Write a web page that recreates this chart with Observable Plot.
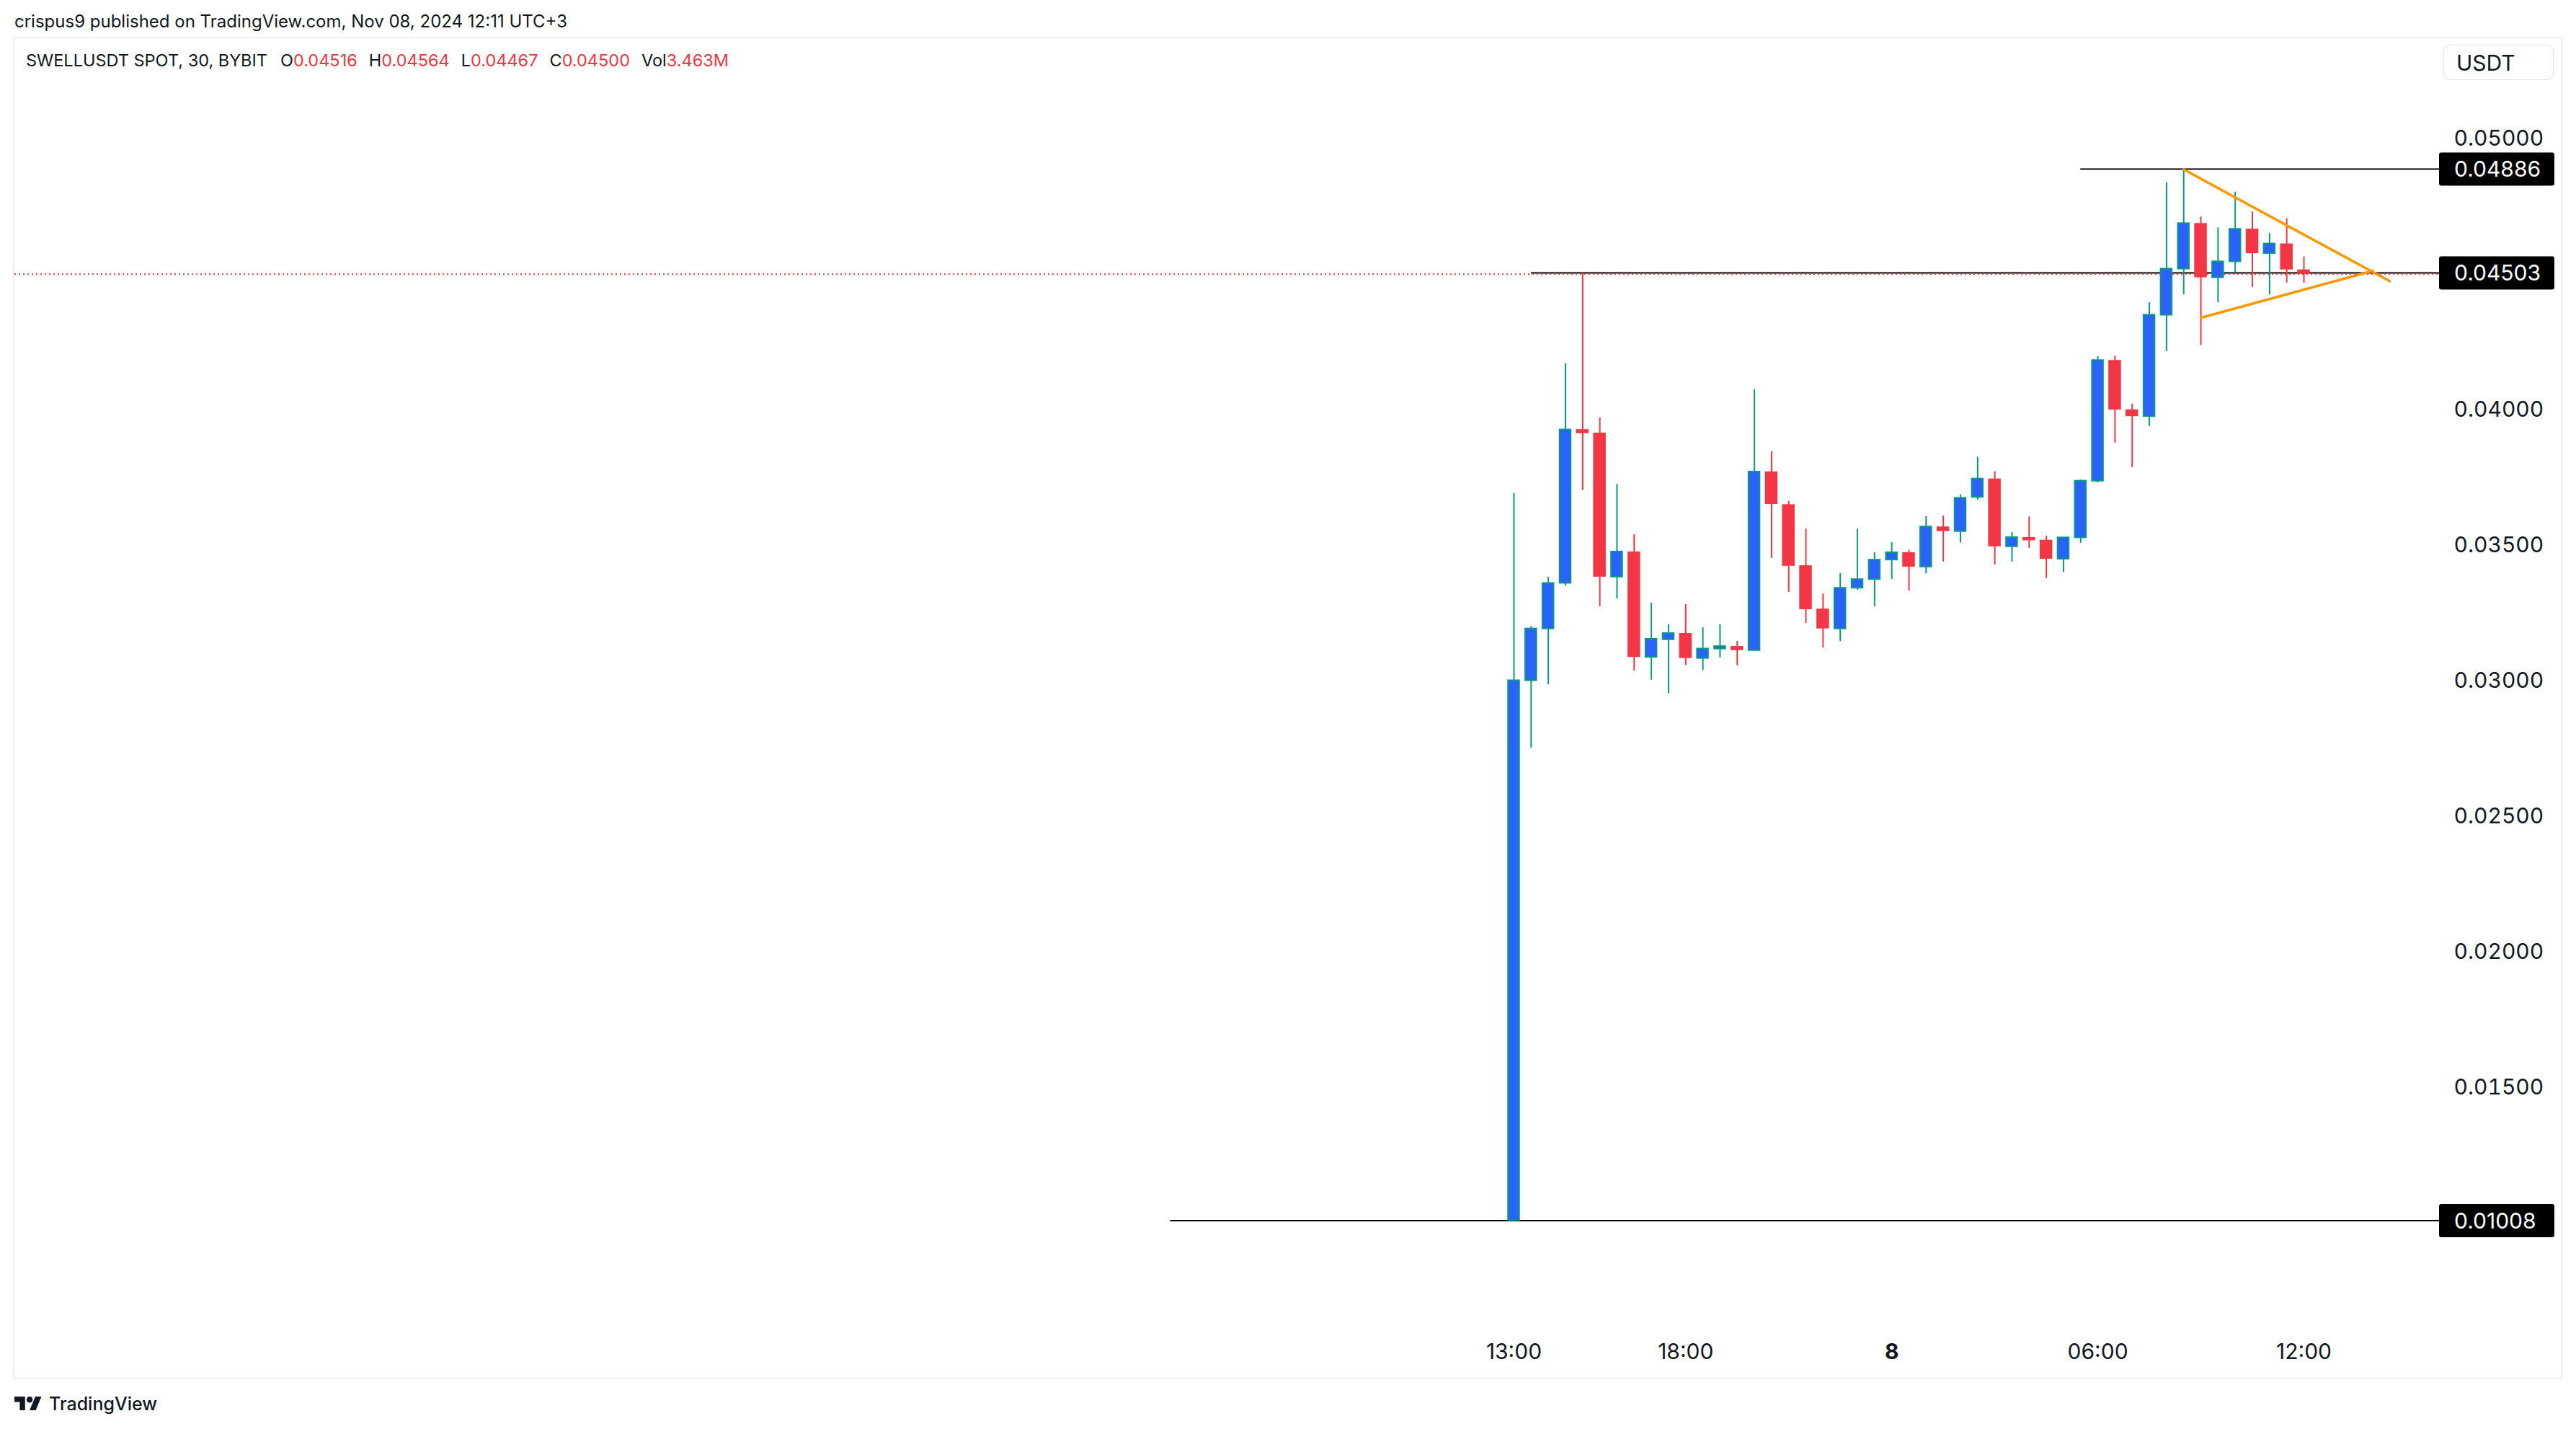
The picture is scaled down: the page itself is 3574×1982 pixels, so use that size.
<!DOCTYPE html>
<html>
<head>
<meta charset="utf-8">
<script src="https://cdn.jsdelivr.net/npm/d3@7"></script>
<script src="https://cdn.jsdelivr.net/npm/@observablehq/plot@0.6"></script>
<style>
  html, body { margin: 0; padding: 0; background: #ffffff; }
  body { width: 3574px; height: 1982px; position: relative; overflow: hidden; font-family: Inter, "Noto Sans", sans-serif; color: #131722; }
  .abs { position: absolute; white-space: nowrap; line-height: 1; transform: translateY(-50%); }
  #frame { position: absolute; left: 18px; top: 51px; width: 3533px; height: 1858px; border: 2px solid #EEEEF3; }
  #chart { position: absolute; left: 0; top: 0; }
  .red { color: #F23645; }
</style>
</head>
<body>
<div id="frame"></div>
<div id="chart"></div>
<div class="abs" id="pub" style="left:20px; top:30px; font-size:24px;"></div>
<div class="abs" id="legend" style="left:36px; top:84px; font-size:23.5px;"></div>
<div id="usdt" style="position:absolute; left:3390px; top:62px; width:153px; height:49px; border:1.5px solid #E0E3EB; border-radius:9px; box-sizing:border-box;">
  <span style="position:absolute; left:17px; top:50%; transform:translateY(-50%); font-size:30px; line-height:1;">USDT</span>
</div>
<div id="logo" style="position:absolute; left:20px; top:1937px; height:19px;">
  <svg width="38" height="19" viewBox="0 4 36 18" preserveAspectRatio="none" style="position:absolute; left:0; top:0;">
    <path d="M14 22H7V11H0V4h14v18z" fill="#131722"/>
    <circle cx="20" cy="8" r="4" fill="#131722"/>
    <path d="M28 22h-8l7.5-18h8z" fill="#131722"/>
  </svg>
  <span style="position:absolute; left:48px; top:10px; transform:translateY(-50%); font-size:25px; font-weight:500; line-height:1; white-space:nowrap;">TradingView</span>
</div>
<script>
// ---------- data ----------
const publishedText = "crispus9 published on TradingView.com, Nov 08, 2024 12:11 UTC+3";
const symbolText = "SWELLUSDT SPOT, 30, BYBIT";
const legendKeys = ["O", "H", "L", "C", "Vol"];
const legendValues = ["0.04516", "0.04564", "0.04467", "0.04500", "3.463M"];

const times = ["13:00","13:30","14:00","14:30","15:00","15:30","16:00","16:30","17:00","17:30",
  "18:00","18:30","19:00","19:30","20:00","20:30","21:00","21:30","22:00","22:30",
  "23:00","23:30","00:00","00:30","01:00","01:30","02:00","02:30","03:00","03:30",
  "04:00","04:30","05:00","05:30","06:00","06:30","07:00","07:30","08:00","08:30",
  "09:00","09:30","10:00","10:30","11:00","11:30","12:00"];
const opens = [0.01010,0.03001,0.03192,0.03360,0.03927,0.03914,0.03383,0.03476,0.03087,0.03152,
  0.03175,0.03083,0.03118,0.03127,0.03112,0.03771,0.03650,0.03425,0.03265,0.03192,
  0.03342,0.03374,0.03446,0.03473,0.03420,0.03568,0.03551,0.03677,0.03745,0.03495,
  0.03529,0.03519,0.03449,0.03528,0.03737,0.04182,0.04000,0.03975,0.04349,0.04519,
  0.04687,0.04487,0.04546,0.04666,0.04576,0.04612,0.04516];
const highs = [0.03691,0.03201,0.03383,0.04170,0.04503,0.03970,0.03725,0.03539,0.03287,0.03207,
  0.03281,0.03196,0.03207,0.03146,0.04074,0.03845,0.03662,0.03560,0.03321,0.03396,
  0.03560,0.03473,0.03510,0.03482,0.03606,0.03608,0.03687,0.03825,0.03772,0.03547,
  0.03605,0.03534,0.03528,0.03741,0.04196,0.04198,0.04021,0.04395,0.04838,0.04886,
  0.04711,0.04671,0.04803,0.04730,0.04650,0.04704,0.04564];
const lows = [0.01008,0.02753,0.02986,0.03350,0.03702,0.03274,0.03303,0.03037,0.03003,0.02953,
  0.03058,0.03039,0.03085,0.03056,0.03110,0.03452,0.03327,0.03212,0.03122,0.03146,
  0.03335,0.03274,0.03375,0.03332,0.03396,0.03439,0.03509,0.03667,0.03428,0.03439,
  0.03489,0.03378,0.03400,0.03508,0.03731,0.03878,0.03787,0.03939,0.04215,0.04424,
  0.04237,0.04395,0.04504,0.04452,0.04424,0.04468,0.04467];
const closes = [0.03001,0.03192,0.03360,0.03926,0.03912,0.03383,0.03476,0.03087,0.03154,0.03175,
  0.03083,0.03118,0.03127,0.03112,0.03771,0.03651,0.03423,0.03263,0.03192,0.03342,
  0.03374,0.03446,0.03473,0.03420,0.03568,0.03551,0.03674,0.03745,0.03495,0.03529,
  0.03517,0.03449,0.03528,0.03737,0.04182,0.03999,0.03975,0.04349,0.04519,0.04687,
  0.04487,0.04546,0.04666,0.04576,0.04612,0.04516,0.04500];

const yTicks = [0.015, 0.02, 0.025, 0.03, 0.035, 0.04, 0.05];
const timeTickAt = ["13:00", "18:00", "00:00", "06:00", "12:00"];
const timeTickLabels = ["13:00", "18:00", "8", "06:00", "12:00"];
const timeTickBold = [false, false, true, false, false];

// horizontal ray drawings: price and starting bar (bar index; negative = before first bar)
const levelPrices = [0.04886, 0.04503, 0.01008];
const levelStartBar = [33, 1, -20];

// triangle (pennant) drawing: [bar index, price]
const triUpper = [[39, 0.04886], [51, 0.04474]];
const triLower = [[40, 0.04339], [50, 0.04512]];

// ---------- build ----------
const RED = "#F23645", BLUE = "#2962FF", TEAL = "#089981", ORANGE = "#FF9800", INK = "#131722";

document.getElementById("pub").textContent = publishedText;
const leg = document.getElementById("legend");
leg.innerHTML = `<span>${symbolText}</span>` + legendKeys.map((k, j) =>
  `<span style="margin-left:${j === 0 ? 18 : 16}px">${k}</span><span class="red">${legendValues[j]}</span>`).join("");

const candles = times.map((t, i) => ({i, t, o: opens[i], h: highs[i], l: lows[i], c: closes[i], up: closes[i] >= opens[i]}));
const ups = candles.filter(d => d.up), downs = candles.filter(d => !d.up);
const tri = [
  ...triUpper.map(([x, y]) => ({name: "upper", x, y})),
  ...triLower.map(([x, y]) => ({name: "lower", x, y}))
];
const tticks = timeTickAt.map((t, j) => ({i: times.indexOf(t), label: timeTickLabels[j], bold: timeTickBold[j]}));

// horizontal rays: from their start bar to the price-scale edge
const rays = (index, scales, values, dimensions) => {
  const g = d3.create("svg:g");
  const x0 = dimensions.width - dimensions.marginRight;
  levelPrices.forEach((v, j) => {
    const y = scales.y(v);
    g.append("line").attr("x1", scales.x(levelStartBar[j])).attr("x2", x0)
      .attr("y1", y).attr("y2", y).attr("stroke", "#000").attr("stroke-width", 2);
  });
  return g.node();
};

// price-scale labels for the rays
const priceLabels = (index, scales, values, dimensions) => {
  const g = d3.create("svg:g");
  const x0 = dimensions.width - dimensions.marginRight;
  levelPrices.forEach(v => {
    const y = scales.y(v);
    g.append("rect").attr("x", x0).attr("y", y - 23).attr("width", 160).attr("height", 46).attr("rx", 3).attr("fill", "#000");
    g.append("text").attr("x", x0 + 21).attr("y", y).attr("dy", "0.36em").attr("text-anchor", "start")
      .attr("fill", "#fff").attr("font-size", 30).attr("font-family", "Inter, sans-serif").text(v.toFixed(5));
  });
  return g.node();
};

const chart = Plot.plot({
  width: 3574,
  height: 1982,
  marginLeft: 20,
  marginRight: 190,
  marginTop: 0,
  marginBottom: 107,
  style: {background: "transparent", fontFamily: "Inter, sans-serif", fontSize: "30px", color: INK},
  x: {type: "linear", domain: [0, 46], range: [2100, 3196], axis: null},
  y: {type: "linear", domain: [0, 0.05], range: [2072.1, 191.7], axis: null},
  marks: [
    rays,
    Plot.ruleY([closes[closes.length - 1]], {stroke: RED, strokeWidth: 2, strokeDasharray: "2 4"}),
    Plot.ruleX(ups, {x: "i", y1: "l", y2: "h", stroke: TEAL, strokeWidth: 2}),
    Plot.ruleX(downs, {x: "i", y1: "l", y2: "h", stroke: RED, strokeWidth: 2}),
    Plot.rect(ups, {x1: d => d.i - 0.325, x2: d => d.i + 0.325, y1: "o", y2: "c", fill: BLUE, stroke: TEAL, strokeWidth: 2}),
    Plot.rect(downs, {x1: d => d.i - 0.367, x2: d => d.i + 0.367, y1: "o", y2: "c", fill: RED}),
    Plot.line(tri, {x: "x", y: "y", z: "name", stroke: ORANGE, strokeWidth: 3.5, strokeLinecap: "round"}),
    Plot.axisY(yTicks, {anchor: "right", tickFormat: d3.format(".5f"), tickSize: 0, tickPadding: 20, fontSize: 30, label: null}),
    Plot.text(tticks.filter(d => !d.bold), {x: "i", text: "label", frameAnchor: "bottom", lineAnchor: "middle", fontSize: 30, fill: INK}),
    Plot.text(tticks.filter(d => d.bold), {x: "i", text: "label", frameAnchor: "bottom", lineAnchor: "middle", fontSize: 30, fontWeight: "bold", fill: INK}),
    priceLabels
  ]
});
document.getElementById("chart").appendChild(chart);
</script>
</body>
</html>
